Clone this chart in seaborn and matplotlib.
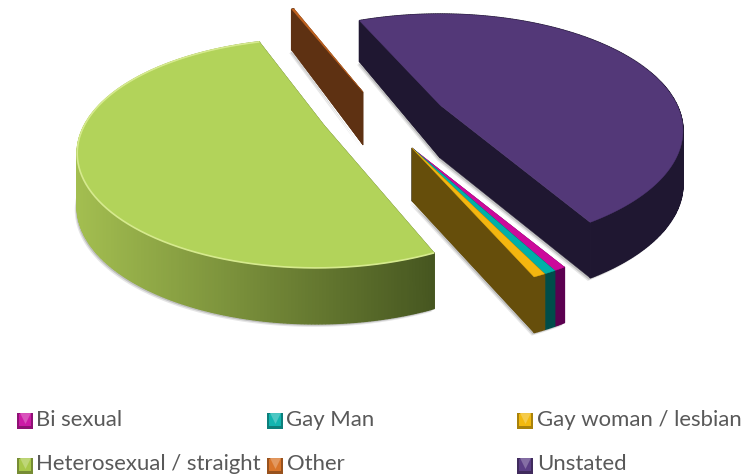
import numpy as np
import matplotlib
matplotlib.use("Agg")
import matplotlib.pyplot as plt
from matplotlib.colors import to_rgb
from matplotlib.patches import Polygon
import seaborn as sns

# ---- data (percent) ----
categories = ["Bi sexual", "Gay Man", "Gay woman / lesbian",
              "Heterosexual / straight", "Other", "Unstated"]
values = [0.65, 0.65, 0.65, 51.9, 0.2, 48.1]

# ---- styles ----
top_colors = ["#CC0A9B", "#00B0A8", "#F4B60F", "#B2D35A", "#C0621F", "#533878"]
side_left = ["#5C0050", "#004D4A", "#664E0B", "#A3BE50", "#5E3112", "#1F1731"]
side_right = ["#5C0050", "#004D4A", "#664E0B", "#465620", "#5E3112", "#1F1731"]
cut_colors = ["#5C0050", "#004D4A", "#664E0B", "#465620", "#5E3112", "#1F1731"]
legend_colors = ["#CC1AA6", "#12B5B0", "#F2B90F", "#A8C84A", "#D9752A", "#5B3E85"]
explode = {"Bi sexual": (37, 23), "Gay Man": (37, 23), "Gay woman / lesbian": (37, 23),
           "Heterosexual / straight": (-59, 3), "Other": (-12, -30), "Unstated": (65, -20)}
radius_scale = {"Heterosexual / straight": 0.983, "Bi sexual": 1.015, "Gay Man": 1.015,
                "Gay woman / lesbian": 1.015}
apex_nudge = {"Heterosexual / straight": (8, -3), "Other": (0, -3)}
twist = {"Other": -4.2}
draw_order = ["Other", "Unstated", "Bi sexual", "Gay Man", "Gay woman / lesbian",
              "Heterosexual / straight"]

PIE_CX, PIE_CY, RX, RY, PERSP = 375.0, 125.0, 237.0, 111.0, 0.22
START = -24.1  # first angle of Unstated, clockwise from 12 o'clock

sns.set_theme(style="white")
plt.rcParams["font.family"] = ["Lato", "DejaVu Sans"]
sns.set_palette(sns.color_palette(top_colors))

fig, ax = plt.subplots(figsize=(7.44, 4.74), dpi=100)
fig.subplots_adjust(0, 0, 1, 1)
ax.set_xlim(0, 744)
ax.set_ylim(474, 0)
ax.axis("off")


def depth(theta):
    y = -np.cos(np.radians(theta))
    return np.where(y < 0, 53 + 13 * y, 53 + 3 * y)


def project(theta, cat):
    t = np.radians(theta)
    X, Y = np.sin(t), -np.cos(t)
    w = 1 / (1 - PERSP * Y)
    s = radius_scale.get(cat, 1.0)
    ex, ey = explode[cat]
    return PIE_CX + ex + RX * s * X * w, PIE_CY + ey + RY * s * Y * w


# angles from the values, clockwise, starting with Unstated
angles = {}
a = START
for cat in ["Unstated", "Bi sexual", "Gay Man", "Gay woman / lesbian",
            "Heterosexual / straight", "Other"]:
    v = values[categories.index(cat)]
    angles[cat] = (a + twist.get(cat, 0), a + twist.get(cat, 0) + v * 3.6)
    a += v * 3.6


def mix(c1, c2, f):
    c1, c2 = np.array(to_rgb(c1)), np.array(to_rgb(c2))
    return tuple(c1 + (c2 - c1) * np.clip(f, 0, 1))


for cat in draw_order:
    i = categories.index(cat)
    a0, a1 = angles[cat]
    th = np.linspace(a0, a1, max(int(abs(a1 - a0) * 1.5), 4))
    xs, ys = project(th, cat)
    nx, ny = apex_nudge.get(cat, (0, 0))
    ax0, ay0 = PIE_CX + explode[cat][0] + nx, PIE_CY + explode[cat][1] + ny
    dp = depth(th)
    d_apex = 53.0

    # soft shadow of the underside
    for off, alpha in ((3.0, 0.15), (1.8, 0.25)):
        sx = np.r_[ax0, xs] - off * 0.8
        sy = np.r_[ay0 + d_apex, ys + dp] + off
        ax.add_patch(Polygon(np.c_[sx, sy], fc="#555555", ec="none", alpha=alpha, zorder=1))

    z = 2 + draw_order.index(cat)
    # cut faces
    for k in (-1, 0):
        ax.add_patch(Polygon([(ax0, ay0), (xs[k], ys[k]), (xs[k], ys[k] + dp[k]), (ax0, ay0 + d_apex)],
                             fc=cut_colors[i], ec=cut_colors[i], lw=0.3, zorder=z))
    # outer wall strips, shaded by position across the slice
    xmin, xmax = xs.min(), xs.max()
    for j in range(len(th) - 1):
        f = ((xs[j] + xs[j + 1]) / 2 - xmin) / max(xmax - xmin, 1)
        col = mix(side_left[i], side_right[i], f)
        ax.add_patch(Polygon([(xs[j], ys[j]), (xs[j + 1], ys[j + 1]),
                              (xs[j + 1], ys[j + 1] + dp[j + 1]), (xs[j], ys[j] + dp[j])],
                             fc=col, ec=col, lw=1.0, zorder=z, joinstyle="bevel"))
    # the visible cut of Unstated, Other and the gold slice sits on top of the wall
    k = -1 if cat == "Gay woman / lesbian" else 0
    if cat in ("Unstated", "Other", "Gay woman / lesbian"):
        ax.add_patch(Polygon([(ax0, ay0), (xs[k], ys[k]), (xs[k], ys[k] + dp[k]), (ax0, ay0 + d_apex)],
                             fc=cut_colors[i], ec=cut_colors[i], lw=0.3, zorder=z))
    # top face
    ax.add_patch(Polygon(np.c_[np.r_[ax0, xs], np.r_[ay0, ys]], fc=top_colors[i], ec=top_colors[i],
                         lw=0.3, zorder=z))
    if cat == "Heterosexual / straight":
        ax.plot(xs, ys, color="#D6EA8E", lw=1.2, zorder=z, solid_capstyle="butt")

# legend
col_x = [24.5, 274.5, 525.0]
row_y = [421.0, 466.0]
order = [(0, 0), (0, 1), (0, 2), (1, 0), (1, 1), (1, 2)]
for cat, (r, c) in zip(categories, order):
    i = categories.index(cat)
    x, y = col_x[c], row_y[r]
    base = legend_colors[i]
    ax.scatter([x], [y], marker="s", s=125, color=mix(base, "#000000", 0.3), linewidths=0,
               clip_on=False, zorder=20)
    ax.scatter([x], [y - 1.0], marker="s", s=80, color=base, linewidths=0, zorder=21)
    ax.scatter([x], [y - 3], marker="v", s=62, color=mix(base, "#FFFFFF", 0.25), linewidths=0, zorder=22)
    ax.text(x + 12.0, y - 1.0 - r * 1.0, cat, fontsize=15.9, color="#595959", va="center", ha="left", zorder=23)

fig.savefig("out.png", dpi=100, facecolor="white")
